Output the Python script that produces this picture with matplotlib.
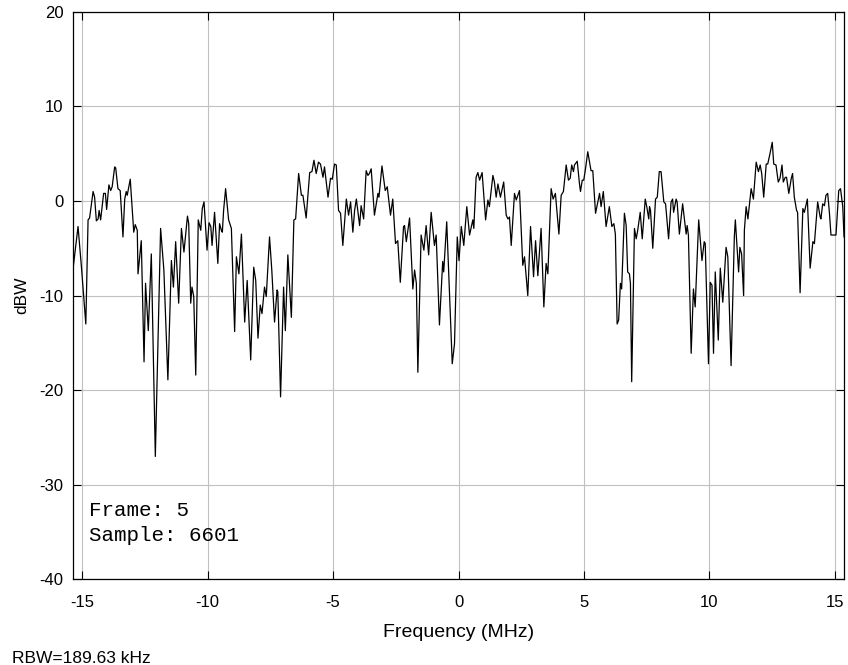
import matplotlib.pyplot as plt

# spectrum trace (frequency in MHz, level in dBW)
freq_lo = [-15.36, -15.16, -15.03, -14.85, -14.76, -14.70, -14.56, -14.50, -14.43, -14.36,
           -14.32, -14.26, -14.14, -14.07, -14.02, -13.93, -13.86, -13.80, -13.70, -13.66,
           -13.57, -13.48, -13.37, -13.30, -13.24, -13.20, -13.08, -12.94, -12.88, -12.80,
           -12.77, -12.64, -12.53, -12.47, -12.36, -12.24, -12.08, -11.87, -11.74, -11.58,
           -11.44, -11.36,
           -11.27, -11.15, -11.04, -10.94, -10.80, -10.75, -10.67, -10.62, -10.55, -10.47,
           -10.37, -10.27, -10.21, -10.14, -10.02, -9.94, -9.87, -9.82, -9.72, -9.59,
           -9.52, -9.45, -9.41, -9.36, -9.28, -9.16, -9.05, -8.92, -8.85, -8.75,
           -8.65, -8.52, -8.42, -8.28, -8.16, -8.08, -7.99, -7.90, -7.83, -7.73, -7.66]
level_lo = [-7.2, -2.7, -6.8, -13.0, -2.0, -1.8, 1.0, 0.4, -2.1, -1.9,
            -1.0, -2.0, 0.8, 0.8, -0.9, 1.7, 1.1, 1.5, 3.6, 3.5,
            1.3, 1.1, -3.8, 0.2, 1.0, 0.6, 2.3, -3.3, -2.5, -3.1,
            -7.7, -4.2, -17.0, -8.7, -13.7, -5.6, -27.0, -2.9, -7.3, -18.9,
            -6.3, -9.1,
            -4.3, -10.8, -2.9, -5.4, -1.6, -2.4, -10.8, -9.1, -10.1, -18.4,
            -2.0, -3.1, -0.8, -0.1, -5.2, -2.3, -2.7, -4.7, -1.2, -6.6,
            -2.4, -3.1, -3.3, -1.0, 1.3, -2.0, -2.9, -13.8, -5.9, -7.7,
            -3.5, -12.8, -8.4, -16.8, -7.0, -8.4, -14.5, -11.0, -11.9, -9.1, -10.1]

freq_mid = [-7.53, -7.44, -7.33, -7.23, -7.20, -7.09, -6.97, -6.90, -6.80, -6.66,
            -6.56, -6.49, -6.37, -6.26, -6.20, -6.07, -5.93, -5.84, -5.76, -5.67,
            -5.58, -5.50, -5.40, -5.34, -5.20, -5.10, -5.03, -4.94, -4.87, -4.78,
            -4.70, -4.61, -4.47, -4.38, -4.30, -4.21, -4.14, -4.07, -3.94, -3.88, -3.78,
            -3.68, -3.61, -3.55, -3.48, -3.35, -3.21, -3.17, -3.05, -2.92, -2.84,
            -2.71, -2.62, -2.51, -2.42, -2.32, -2.19, -2.15, -2.08, -1.95, -1.82,
            -1.75, -1.68, -1.62, -1.49, -1.38, -1.29, -1.19, -1.09, -0.96, -0.89,
            -0.76, -0.63, -0.59, -0.47, -0.36, -0.25, -0.16, -0.05]
level_mid = [-3.8, -7.3, -12.8, -9.4, -9.6, -20.7, -9.1, -13.7, -5.7, -12.3,
             -2.0, -1.9, 2.9, 0.6, 0.6, -1.8, 3.0, 3.1, 4.3, 2.9,
             4.1, 3.9, 2.5, 3.6, 0.4, 2.4, 2.3, 3.9, 3.8, -1.0,
             -1.3, -4.7, 0.2, -1.5, -0.1, -3.3, -1.0, 0.2, -2.6, -0.5, -1.9,
             3.2, 2.7, 2.9, 3.4, -1.5, 0.8, 0.4, 3.7, 1.1, 1.5,
             -1.5, 0.2, -4.5, -4.2, -8.6, -2.7, -2.6, -4.3, -1.8, -9.3,
             -7.3, -8.7, -18.1, -3.6, -5.2, -2.6, -5.7, -1.2, -4.7, -3.6,
             -13.1, -6.4, -7.5, -2.2, -9.8, -17.2, -15.1, -3.8]

freq_hi = [0.02, 0.11, 0.21, 0.33, 0.44, 0.57, 0.61, 0.70, 0.77, 0.84,
           0.94, 1.08, 1.17, 1.23, 1.37, 1.43, 1.50, 1.57, 1.67, 1.80,
           1.90, 1.97, 2.03, 2.10, 2.23, 2.30, 2.43, 2.56, 2.63, 2.76,
           2.87, 2.99, 3.07, 3.16, 3.29, 3.40, 3.49, 3.56, 3.69,
           3.77, 3.86, 4.00, 4.09, 4.18, 4.29, 4.38, 4.45, 4.51, 4.58,
           4.62, 4.73, 4.82, 4.86, 4.93, 4.99, 5.06, 5.15, 5.28, 5.35,
           5.46, 5.55, 5.62, 5.68, 5.77, 5.88, 6.01, 6.11, 6.19, 6.25,
           6.32, 6.38, 6.45, 6.50, 6.61, 6.68, 6.74, 6.81, 6.85, 6.90,
           7.01, 7.08, 7.14, 7.24, 7.32, 7.44, 7.50, 7.58]
level_hi = [-6.3, -2.7, -4.7, -0.6, -3.6, -2.0, -2.9, 2.5, 3.0, 2.2,
            3.0, -2.0, 0.1, -0.6, 2.7, 2.0, 0.4, 1.8, 0.4, 2.0,
            -1.5, -1.9, -1.7, -4.7, 0.8, 0.1, 1.1, -6.8, -5.9, -10.0,
            -2.7, -8.0, -4.2, -7.9, -2.9, -11.2, -6.6, -7.7, 1.3,
            0.2, 0.8, -3.5, 0.6, 1.0, 3.8, 2.2, 2.4, 3.8, 3.1,
            3.8, 4.2, 1.8, 1.0, 2.2, 2.2, 3.4, 5.2, 3.2, 3.2,
            -1.3, -0.1, 0.8, -0.6, 1.0, -2.7, -0.6, -2.7, -2.4, -3.5,
            -13.0, -12.6, -8.7, -9.3, -1.3, -2.6, -7.5, -7.7, -8.7, -19.1,
            -2.9, -4.0, -3.1, -1.2, -4.0, 0.2, -0.6, -1.9]

freq_top = [7.61, 7.65, 7.74, 7.85, 7.92, 8.00, 8.07, 8.18, 8.25, 8.37,
            8.47, 8.53, 8.57, 8.67, 8.71, 8.80, 8.93, 9.07, 9.11, 9.16,
            9.27, 9.36, 9.43, 9.57, 9.70, 9.79, 9.83, 9.96, 10.03, 10.10,
            10.16, 10.23, 10.35, 10.43, 10.53, 10.66, 10.73, 10.86, 10.99, 11.03,
            11.16, 11.21, 11.28, 11.36,
            11.39, 11.46, 11.53, 11.66, 11.75, 11.86, 11.95, 12.02, 12.08, 12.16,
            12.26, 12.32, 12.41, 12.50, 12.56, 12.65, 12.74, 12.81, 12.89, 12.94,
            13.02, 13.07, 13.16, 13.26, 13.31, 13.38, 13.47, 13.51, 13.61, 13.72,
            13.78, 13.90, 14.01, 14.12, 14.18, 14.31, 14.41, 14.44, 14.51, 14.58,
            14.64, 14.71, 14.78, 14.84, 14.95, 15.04, 15.15, 15.22, 15.31, 15.36]
level_top = [-0.6, -1.0, -5.0, 0.2, 0.4, 3.1, 3.1, -0.1, -0.3, -4.0,
             -0.1, 0.2, -1.2, 0.2, -0.1, -3.5, -0.3, -3.5, -2.6, -3.6,
             -16.1, -9.3, -11.2, -2.0, -6.3, -4.3, -4.5, -17.2, -8.6, -8.9,
             -16.1, -7.5, -14.7, -7.1, -10.7, -4.9, -5.9, -17.4, -3.8, -2.0,
             -7.5, -4.9, -5.6, -10.0,
             -3.1, -0.6, -1.9, 1.3, 0.2, 4.1, 3.1, 3.8, 2.9, 0.4,
             3.9, 3.9, 5.0, 6.2, 3.9, 3.8, 2.0, 2.4, 3.8, 2.0,
             2.5, 2.5, 0.8, 2.4, 2.9, 0.4, -1.0, -1.2, -9.7, -0.8,
             -1.2, 0.2, -7.1, -4.3, -4.5, -0.1, -1.7, -1.9, -0.3, -0.5,
             0.6, 0.8, -1.3, -3.6, -3.6, -3.6, 1.1, 1.3, -0.6, -3.8]

freq = freq_lo + freq_mid + freq_hi + freq_top
level = level_lo + level_mid + level_hi + level_top

x_ticks = [-15, -10, -5, 0, 5, 10, 15]
y_ticks = [-40, -30, -20, -10, 0, 10, 20]

plt.rcParams['font.family'] = ['Liberation Sans', 'DejaVu Sans']
plt.rcParams['axes.unicode_minus'] = False

fig = plt.figure(figsize=(8.48, 6.65), dpi=100)
ax = fig.add_axes([0.0861, 0.1286, 0.9092, 0.8538])

ax.plot(freq, level, color='black', linewidth=0.9, zorder=3)

ax.set_xlim(-15.36, 15.36)
ax.set_ylim(-40, 20)
ax.set_xticks(x_ticks)
ax.set_yticks(y_ticks)
ax.grid(True, color='#c0c0c0', linewidth=0.8)
ax.set_axisbelow(True)

ax.tick_params(direction='in', top=True, right=True, length=6, width=0.8,
               labelsize=12, colors='black')
ax.tick_params(axis='x', pad=11)
ax.tick_params(axis='y', pad=7)
for s in ax.spines.values():
    s.set_linewidth(0.9)

ax.set_xlabel('Frequency (MHz)', fontsize=14, labelpad=10)
ax.set_ylabel('dBW', fontsize=12.5, labelpad=7)

ax.text(0.021, 0.112, 'Frame: 5', transform=ax.transAxes, fontsize=15,
        family='Liberation Mono', va='baseline')
ax.text(0.021, 0.068, 'Sample: 6601', transform=ax.transAxes, fontsize=15,
        family='Liberation Mono', va='baseline')

fig.text(12 / 848, 2 / 665, 'RBW=189.63 kHz', fontsize=12.5, va='baseline')

plt.savefig('out.png', dpi=100)
